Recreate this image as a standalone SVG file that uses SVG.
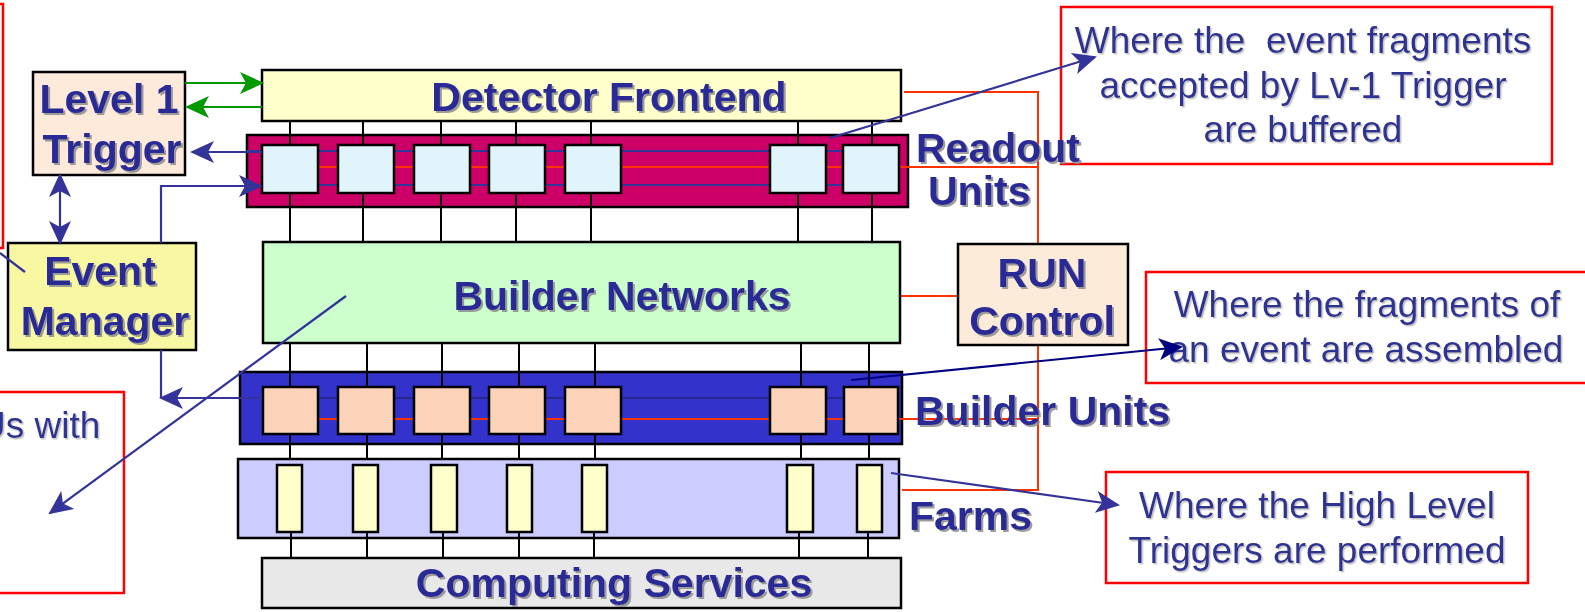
<svg xmlns="http://www.w3.org/2000/svg" width="1585" height="612" viewBox="0 0 1585 612">
  <style>
    .box { stroke: #000; stroke-width: 2.5; }
    .wire { stroke: #000; stroke-width: 2; fill: none; }
    .red { stroke: #ff3300; stroke-width: 2; fill: none; }
    .note { fill: none; stroke: #ff0000; stroke-width: 2.5; }
    .lbl { font-family: "Liberation Sans", Arial, sans-serif; font-weight: bold; font-size: 41px; fill: #2a2a96; filter: url(#shadow); }
    .txt { font-family: "Liberation Sans", Arial, sans-serif; font-size: 37px; fill: #2e3192; filter: url(#shadowLight); }
    .blue { stroke: #333399; stroke-width: 2.2; fill: none; }
    .navy { stroke: #000080; stroke-width: 2.2; fill: none; }
    .green { stroke: #009900; stroke-width: 2.2; fill: none; }
  </style>
  <defs>
    <filter id="shadow" x="-5%" y="-10%" width="110%" height="130%">
      <feDropShadow dx="2" dy="2" stdDeviation="0.6" flood-color="#8c8c8c" flood-opacity="0.85"/>
    </filter>
    <filter id="shadowLight" x="-5%" y="-10%" width="110%" height="130%">
      <feDropShadow dx="1.5" dy="1.5" stdDeviation="0.6" flood-color="#b4b4b4" flood-opacity="0.8"/>
    </filter>
    <marker id="arrGreen" viewBox="0 0 24 22" refX="22" refY="11" markerWidth="24" markerHeight="22" markerUnits="userSpaceOnUse" orient="auto">
      <path d="M0,0 L24,11 L0,22 L6,11 z" fill="#009900"/>
    </marker>
    <marker id="arrBlue" viewBox="0 0 24 22" refX="22" refY="11" markerWidth="24" markerHeight="22" markerUnits="userSpaceOnUse" orient="auto-start-reverse">
      <path d="M0,0 L24,11 L0,22 L6,11 z" fill="#333399"/>
    </marker>
    <marker id="arrNavy" viewBox="0 0 24 22" refX="22" refY="11" markerWidth="24" markerHeight="22" markerUnits="userSpaceOnUse" orient="auto">
      <path d="M0,0 L24,11 L0,22 L6,11 z" fill="#000080"/>
    </marker>
  </defs>

  <rect width="1585" height="612" fill="#ffffff"/>

  <!-- explanatory note boxes -->
  <g id="note-left-top"><rect class="note" x="-10" y="4" width="13" height="244"/></g>
  <g id="note-left-bottom">
    <rect class="note" x="-10" y="392" width="134" height="201"/>
    <text class="txt" x="-21" y="438">Us with</text>
  </g>
  <g id="note-readout">
    <rect class="note" x="1061" y="7" width="491" height="157"/>
    <text class="txt" x="1303" y="53" text-anchor="middle" font-size="35" xml:space="preserve">Where the  event fragments</text>
    <text class="txt" x="1303" y="98" text-anchor="middle" font-size="35">accepted by Lv-1 Trigger</text>
    <text class="txt" x="1303" y="142" text-anchor="middle" font-size="35">are buffered</text>
  </g>
  <g id="note-builder">
    <rect class="note" x="1146" y="272" width="450" height="111"/>
    <text class="txt" x="1367" y="317" text-anchor="middle">Where the fragments of</text>
    <text class="txt" x="1366" y="362" text-anchor="middle">an event are assembled</text>
  </g>
  <g id="note-farms">
    <rect class="note" x="1106" y="472" width="422" height="111"/>
    <text class="txt" x="1317" y="518" text-anchor="middle">Where the High Level</text>
    <text class="txt" x="1317" y="563" text-anchor="middle">Triggers are performed</text>
  </g>

  <!-- run control wiring -->
  <g id="run-wiring">
    <path class="red" d="M904,92 H1038 V490 H902"/>
    <path class="red" d="M900,296 H958"/>
  </g>

  <!-- readout units -->
  <g id="readout-units">
    <rect x="247" y="135" width="661" height="72" fill="#cc0066" class="box"/>
    <path class="blue" d="M247,151 H843 M318,185 H843"/>
    <path class="red" d="M262,167 H1038"/>
    <path class="wire" d="M290,121 V242 M363,121 V242 M441,121 V242 M516,121 V242 M591,121 V242 M798,121 V242 M872,121 V242"/>
    <g fill="#e1f4fc" class="box">
      <rect x="262" y="145" width="56" height="48"/>
      <rect x="338" y="145" width="56" height="48"/>
      <rect x="414" y="145" width="56" height="48"/>
      <rect x="489" y="145" width="56" height="48"/>
      <rect x="565" y="145" width="56" height="48"/>
      <rect x="770" y="145" width="56" height="48"/>
      <rect x="843" y="145" width="56" height="48"/>
    </g>
    <text class="lbl" x="916" y="162">Readout</text>
    <text class="lbl" x="928" y="205">Units</text>
  </g>

  <!-- builder units -->
  <g id="builder-units">
    <rect x="240" y="372" width="662" height="72" fill="#3333cc" class="box"/>
    <path d="M240,398 H843" stroke="#24247a" stroke-width="1.5" fill="none"/>
    <path class="red" d="M263,419 H1038"/>
    <path class="wire" d="M290,343 V465 M367,343 V465 M442,343 V465 M519,343 V465 M595,343 V465 M801,343 V465 M869,343 V465"/>
    <g fill="#fcd3b8" class="box">
      <rect x="263" y="387" width="55" height="47"/>
      <rect x="338" y="387" width="56" height="47"/>
      <rect x="414" y="387" width="56" height="47"/>
      <rect x="489" y="387" width="56" height="47"/>
      <rect x="565" y="387" width="56" height="47"/>
      <rect x="770" y="387" width="56" height="47"/>
      <rect x="844" y="387" width="54" height="47"/>
    </g>
    <text class="lbl" x="915" y="425" font-size="42">Builder Units</text>
  </g>

  <!-- farms -->
  <g id="farms">
    <rect x="238" y="459" width="661" height="79" fill="#ccccff" class="box"/>
    <path class="wire" d="M291,532 V558 M367,532 V558 M443,532 V558 M519,532 V558 M594,532 V558 M799,532 V558 M868,532 V558"/>
    <g fill="#ffffcc" class="box">
      <rect x="277" y="465" width="25" height="67"/>
      <rect x="353" y="465" width="25" height="67"/>
      <rect x="431" y="465" width="26" height="67"/>
      <rect x="507" y="465" width="25" height="67"/>
      <rect x="582" y="465" width="25" height="67"/>
      <rect x="787" y="465" width="26" height="67"/>
      <rect x="857" y="465" width="25" height="67"/>
    </g>
    <text class="lbl" x="909" y="530">Farms</text>
  </g>

  <!-- main nodes -->
  <g id="detector-frontend">
    <rect x="262" y="70" width="639" height="51" fill="#ffffcc" class="box"/>
    <text class="lbl" x="609" y="111" text-anchor="middle">Detector Frontend</text>
  </g>
  <g id="builder-networks">
    <rect x="263" y="242" width="637" height="101" fill="#ccffcc" class="box"/>
    <text class="lbl" x="622" y="310" text-anchor="middle">Builder Networks</text>
  </g>
  <g id="computing-services">
    <rect x="262" y="558" width="639" height="50" fill="#e8e8e8" class="box"/>
    <text class="lbl" x="614" y="597" text-anchor="middle">Computing Services</text>
  </g>
  <g id="level1-trigger">
    <rect x="33" y="72" width="152" height="103" fill="#fdeada" class="box"/>
    <text class="lbl" x="109" y="113" text-anchor="middle">Level 1</text>
    <text class="lbl" x="112" y="163" text-anchor="middle">Trigger</text>
  </g>
  <g id="event-manager">
    <rect x="8" y="243" width="188" height="107" fill="#f8f8a2" class="box"/>
    <text class="lbl" x="100" y="285" text-anchor="middle">Event</text>
    <text class="lbl" x="105" y="335" text-anchor="middle">Manager</text>
  </g>
  <g id="run-control">
    <rect x="958" y="244" width="170" height="101" fill="#fdebd9" class="box"/>
    <text class="lbl" x="1042" y="287" text-anchor="middle">RUN</text>
    <text class="lbl" x="1042" y="335" text-anchor="middle">Control</text>
  </g>

  <!-- connectors -->
  <g id="connectors">
    <path class="green" d="M185,83 H262" marker-end="url(#arrGreen)"/>
    <path class="green" d="M262,107 H187" marker-end="url(#arrGreen)"/>
    <path class="blue" d="M262,152 H192" marker-end="url(#arrBlue)"/>
    <path class="blue" d="M60,175 V243" marker-start="url(#arrBlue)" marker-end="url(#arrBlue)"/>
    <path class="blue" d="M161,243 V186 H261" marker-end="url(#arrBlue)"/>
    <path class="blue" d="M161,350 V398"/>
    <path class="blue" d="M262,398 H161" marker-end="url(#arrBlue)"/>
    <path class="blue" d="M0,253 L25,272"/>
    <path class="blue" d="M346,296 L50,513" marker-end="url(#arrBlue)"/>
    <path class="blue" d="M830,138 L1095,57" marker-end="url(#arrBlue)"/>
    <path class="navy" d="M851,380 L1181,347" marker-end="url(#arrNavy)"/>
    <path class="blue" d="M891,473 L1118,505" marker-end="url(#arrBlue)"/>
  </g>
</svg>
